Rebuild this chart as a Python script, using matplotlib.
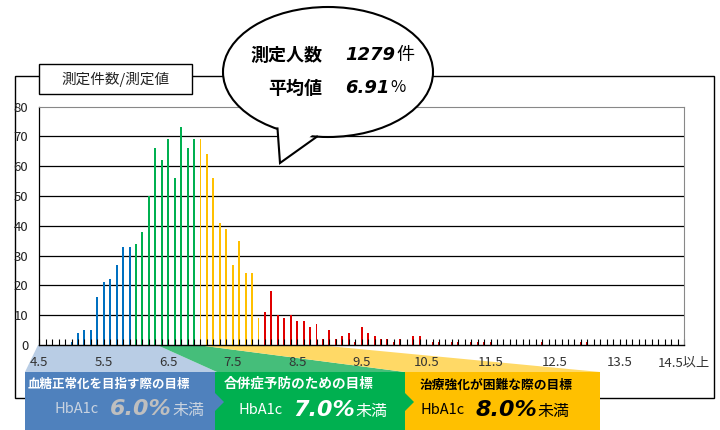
import matplotlib
matplotlib.use("Agg")
import matplotlib.pyplot as plt
from matplotlib.patches import Rectangle, Polygon, Ellipse

plt.rcParams['font.family'] = ['Noto Sans CJK JP', 'DejaVu Sans']

# ---- data ----
categories = [round(4.5 + 0.1 * i, 1) for i in range(101)]
counts = [
    0, 0, 0, 0, 0, 1, 4, 5, 5, 16,          # 4.5 - 5.4
    21, 22, 27, 33, 33, 34, 38, 50, 66, 62,  # 5.5 - 6.4
    69, 56, 73, 66, 69, 69, 64, 56, 41, 39,  # 6.5 - 7.4
    27, 35, 24, 24, 9, 11, 18, 10, 9, 10,    # 7.5 - 8.4
    8, 8, 6, 7, 2, 5, 2, 3, 4, 1,            # 8.5 - 9.4
    6, 4, 3, 2, 2, 1, 2, 0, 3, 3,            # 9.5 - 10.4
    0, 1, 1, 0, 1, 1, 0, 1, 1, 1,            # 10.5 - 11.4
    1, 0, 0, 0, 0, 0, 0, 0, 1, 0,            # 11.5 - 12.4
    0, 0, 0, 0, 1, 1, 0, 0, 0, 0,            # 12.5 - 13.4
    0, 0, 0, 0, 0, 0, 0, 0, 0, 0,            # 13.5 - 14.4
    0,                                       # 14.5以上
]
tick_labels = ['4.5', '5.5', '6.5', '7.5', '8.5', '9.5', '10.5', '11.5', '12.5', '13.5', '14.5以上']
y_ticks = [0, 10, 20, 30, 40, 50, 60, 70, 80]
thresholds = [6.0, 7.0, 8.0]
band_colors = ['#0070C0', '#00B050', '#FFC000', '#E00000']
n_people = '1279'
mean_val = '6.91'

# ---- figure ----
W, H = 720, 430
fig = plt.figure(figsize=(W / 100, H / 100), dpi=100)
fig.patch.set_facecolor('white')

bg = fig.add_axes([0, 0, 1, 1], zorder=0)
bg.set_xlim(0, W); bg.set_ylim(H, 0); bg.axis('off')

# outer frame and title box
bg.add_patch(Rectangle((15, 76), 699, 322, fill=False, ec='black', lw=1.0))
bg.add_patch(Rectangle((39, 64), 153, 30, fc='white', ec='black', lw=1.0, zorder=3))
bg.text(115.5, 79.5, '測定件数/測定値', ha='center', va='center', fontsize=10.5, color='#222222', zorder=4)

# funnels
bg.add_patch(Polygon([(38, 345), (157, 345), (217, 372), (25, 372)], closed=True, fc='#B9CDE5', ec='none', zorder=1))
bg.add_patch(Polygon([(157, 345), (197, 345), (405, 372), (217, 372)], closed=True, fc='#45BE7A', ec='none', zorder=1))
bg.add_patch(Polygon([(197, 345), (317, 345), (600, 372), (405, 372)], closed=True, fc='#FFD966', ec='none', zorder=1))

# banners
bg.add_patch(Rectangle((25, 372), 190, 58, fc='#4F81BD', ec='none', zorder=2))
bg.add_patch(Rectangle((215, 372), 190, 58, fc='#00B050', ec='none', zorder=2))
bg.add_patch(Rectangle((405, 372), 195, 58, fc='#FFC000', ec='none', zorder=2))
bg.add_patch(Polygon([(215, 393), (224, 402), (215, 411)], closed=True, fc='#4F81BD', ec='none', zorder=3))
bg.add_patch(Polygon([(405, 393), (414, 402), (405, 411)], closed=True, fc='#00B050', ec='none', zorder=3))

bg.text(28, 384, '血糖正常化を目指す際の目標', ha='left', va='center', fontsize=9, fontweight='bold', color='white', zorder=4)
bg.text(224, 384, '合併症予防のための目標', ha='left', va='center', fontsize=9.8, fontweight='bold', color='white', zorder=4)
bg.text(420, 385, '治療強化が困難な際の目標', ha='left', va='center', fontsize=9.2, fontweight='bold', color='black', zorder=4)

def goal_line(x, y, val, col_small, col_big, zo=4):
    t1 = bg.text(x, y, 'HbA1c', ha='left', va='center', fontsize=10.5, color=col_small, zorder=zo)
    t2 = bg.annotate(val, xy=(1, 0.5), xycoords=t1, xytext=(8, 0), textcoords='offset points',
                     ha='left', va='center', fontsize=16, fontweight='bold', style='italic',
                     family='DejaVu Sans', color=col_big, zorder=zo)
    bg.annotate('未満', xy=(1, 0.5), xycoords=t2, xytext=(0, -1), textcoords='offset points',
                ha='left', va='center', fontsize=11.5, color=col_small, zorder=zo)

goal_line(55, 409, '6.0%', '#C9D3E0', '#BFBFBF')
goal_line(238, 410, '7.0%', 'white', 'white')
goal_line(420, 410, '8.0%', 'black', 'black')

# ---- main plot ----
x0, x1, y0, y1 = 39.3, 684, 345, 106.5
ax = fig.add_axes([x0 / W, 1 - y0 / H, (x1 - x0) / W, (y0 - y1) / H], zorder=1)
ax.set_facecolor('white')

def color_for(c):
    for t, col in zip(thresholds, band_colors):
        if c < t - 1e-9:
            return col
    return band_colors[-1]

bar_colors = [color_for(c) for c in categories]
ax.bar(categories, counts, width=0.03, color=bar_colors, zorder=1)

for v in y_ticks[1:-1]:
    ax.axhline(v, color='black', lw=0.9, zorder=0.5)

ax.set_xlim(4.5, 14.5)
ax.set_ylim(0, 80)
lab_iter = iter(tick_labels)
xt_labels = [next(lab_iter) if i % 10 == 0 else '' for i in range(len(categories))]
ax.set_xticks(categories)
ax.set_xticklabels(xt_labels)
ax.tick_params(axis='x', direction='in', length=4, width=0.8, color='black', pad=8,
               labelsize=9.5, labelcolor='#333333')
ax.set_yticks(y_ticks)
ax.tick_params(axis='y', length=0, pad=8, labelsize=9.5, labelcolor='#222222')
ax.spines['left'].set_color('black'); ax.spines['left'].set_linewidth(0.9)
ax.spines['bottom'].set_color('black'); ax.spines['bottom'].set_linewidth(1.0)
ax.spines['top'].set_color('#888888'); ax.spines['top'].set_linewidth(0.8)
ax.spines['right'].set_color('#888888'); ax.spines['right'].set_linewidth(0.8)

# ---- callout ----
top = fig.add_axes([0, 0, 1, 1], zorder=2)
top.set_xlim(0, W); top.set_ylim(H, 0); top.axis('off')
top.patch.set_alpha(0)
top.add_patch(Ellipse((328, 72), 210, 130, fc='white', ec='black', lw=1.5, zorder=1))
top.add_patch(Polygon([(277.5, 124), (280, 162), (317, 131)], closed=True, fc='white', ec='none', zorder=2))
top.plot([277.5, 280, 317], [128.5, 163, 136.6], color='black', lw=1.5, zorder=3, solid_joinstyle='miter')

top.text(322, 55, '測定人数', ha='right', va='center', fontsize=13, fontweight='bold', color='black', zorder=4)
top.text(322, 88, '平均値', ha='right', va='center', fontsize=13, fontweight='bold', color='black', zorder=4)
n1 = top.text(345, 55, n_people, ha='left', va='center', fontsize=13, fontweight='bold', style='italic',
              family='DejaVu Sans', color='black', zorder=4)
top.annotate('件', xy=(1, 0.5), xycoords=n1, xytext=(1, 0), textcoords='offset points',
             ha='left', va='center', fontsize=13, color='black', zorder=4)
n2 = top.text(345, 88, mean_val, ha='left', va='center', fontsize=13, fontweight='bold', style='italic',
              family='DejaVu Sans', color='black', zorder=4)
top.annotate('%', xy=(1, 0.5), xycoords=n2, xytext=(1, 0), textcoords='offset points',
             ha='left', va='center', fontsize=12, color='black', zorder=4)

fig.savefig('out.png', dpi=100)
